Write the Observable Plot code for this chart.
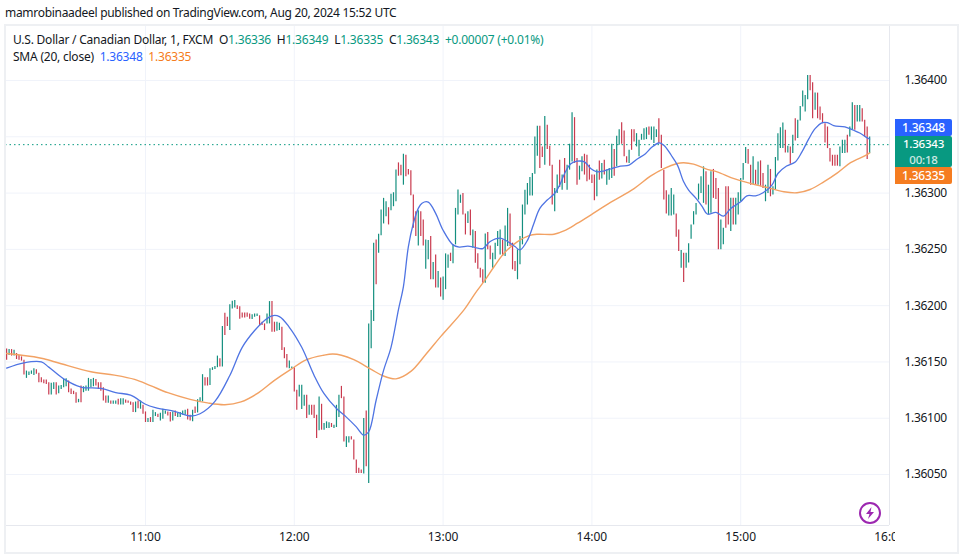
<!DOCTYPE html>
<html><head><meta charset="utf-8">
<style>
html,body{margin:0;padding:0;background:#fff;width:961px;height:555px;overflow:hidden}
body{position:relative;font-family:"Noto Sans",sans-serif;color:#131722}
#pub{position:absolute;left:5px;top:5px;font-size:12px;line-height:16px;white-space:nowrap;letter-spacing:-.3px}
#chart{position:absolute;left:0;top:25px}
#chart svg [aria-label="y-axis tick label"]{letter-spacing:-.3px}
#frame{position:absolute;left:4px;top:24px;width:951px;height:526px;border:2px solid #eef0f3;pointer-events:none}
.leg{position:absolute;left:13px;font-size:12px;line-height:16px;white-space:nowrap;letter-spacing:-.22px}
.leg b{font-weight:400;color:#089981}
.box{position:absolute;left:895px;width:57px;color:#fff;font-size:12px;font-weight:500;text-align:center;line-height:17px;border-radius:0 2px 2px 0;letter-spacing:-.2px}
#mask{position:absolute;left:895px;top:527px;width:60px;height:23px;background:#fff}
#bolt{position:absolute;left:858px;top:501px}
</style>
<script src="https://cdn.jsdelivr.net/npm/d3@7"></script>
<script src="https://cdn.jsdelivr.net/npm/@observablehq/plot@0.6"></script>
</head><body>
<div id="pub">mamrobinaadeel published on TradingView.com, Aug 20, 2024 15:52 UTC</div>
<div id="chart"></div>
<div id="mask"></div>
<div id="frame"></div>
<div class="leg" style="top:32px">U.S. Dollar / Canadian Dollar, 1, FXCM&nbsp; O<b>1.36336</b>&nbsp; H<b>1.36349</b>&nbsp; L<b>1.36335</b>&nbsp; C<b>1.36343</b>&nbsp; <b>+0.00007 (+0.01%)</b></div>
<div class="leg" style="top:49px">SMA (20, close)&nbsp; <span style="color:#2962ff">1.36348</span>&nbsp; <span style="color:#f57c20">1.36335</span></div>
<div class="box" style="top:119px;height:17px;background:#2962ff">1.36348</div>
<div class="box" style="top:136px;height:31px;background:#089981;line-height:15.5px;font-size:11.5px">1.36343<br><span style="opacity:.8">00:18</span></div>
<div class="box" style="top:167px;height:17px;background:#f57c20">1.36335</div>
<svg id="bolt" width="24" height="24" viewBox="0 0 24 24"><circle cx="12" cy="12" r="10" fill="none" stroke="#9c27b0" stroke-width="2"/><path d="M13.5 6 L8 13 H11.5 L10 18 L16 11 H12.5 Z" fill="#9c27b0"/></svg>
<script>
const firstMinute = 604; // 10:04
const highs = [
161.6,161,161,160.5,157.5,155.7,154.5,151.6,141.9,141,
142,144,143,140,136,134,134,131.5,131,131.5,
131.5,128.6,129,134.5,135,133,126,124,122.7,116.8,
128.6,128,128.6,135.4,134.5,135.4,134.5,131.5,131.5,127,
119.8,119.8,115.3,115.3,115.3,116.8,117.4,117.4,116.2,115.3,
114.4,113.8,114.4,115.3,115.3,111.5,105.6,99.7,100.6,107,
105,103.5,104.4,108,106.5,105.6,105,105.6,106.5,104.4,
105,106.5,107,108,102.6,107,110,116.5,118.3,138.7,
136,136,144,144.9,146,155.2,152.8,181.4,193.2,189.7,
200.9,203.9,204.5,200,199,193.5,193.5,193.5,192.6,192,
192.6,192.6,191,185.3,183.8,192.6,203.6,203.6,185.3,185.3,
184.4,180.8,162.6,156.7,150.8,145.5,144.9,124.8,129.2,129.2,
120.4,120.4,111.5,111.5,111.5,102.7,118.9,112.4,95.3,96.8,
95.9,95.3,93.8,111.5,120.4,128.3,118.9,83.5,83.5,83.5,
80.6,62.8,55.5,54,99.7,106.5,183.8,195.6,255.4,258.4,
263.4,285,295.3,292.3,287,299,300.3,320.4,326.8,324.8,
334.5,333.6,321,319.8,298.2,283.5,284.4,283.5,276,258.4,
257.8,261.4,238.3,245,230.4,224.5,225.4,246,245,246.6,
254,286.4,302.7,298.2,299.7,281.4,283.5,285,267.2,265.8,
246,233.3,231.8,263.7,264.9,253,246.6,255.5,265.8,267.2,
258.4,270.8,286.4,281.4,255.5,239.2,249.6,261.4,289.4,302.6,
308.5,313.9,317.4,349.8,359.3,359.3,341,368.1,360.2,341.6,
324.8,304.1,316,329.2,316,330.7,324.8,343.4,371.4,367,
330.7,323.9,332.2,334.5,333.6,324.8,316,316,320.4,328.6,
326.3,329.2,320.4,321.8,343.4,338.6,350.4,356.3,362.5,355.2,
332.2,338,356.3,356.3,352.8,346.9,352.2,357.2,358,358.7,
358.7,358.7,356.3,366,351.3,320.3,302,298.2,304.1,298.2,
281.4,267.2,249,246.6,246.6,254.9,271.7,283.5,290.8,308,
314.4,323.3,318.9,307,318.9,321,313,304.1,276.1,268.7,
305.6,305.6,295.3,295.3,295.3,300.3,313,326.3,340.4,338.6,
324.8,332.2,320.3,327.7,328.6,317.4,307,324.8,321,305.6,
331.6,352.8,358,362.2,355.8,341.6,341,351.3,366,364.6,
377,390.6,386.7,404.4,404.4,398,388.8,388.8,376.4,370.5,
361.6,358.7,339.5,333.6,333.6,333.6,341,346.9,346.9,351.3,
358.7,380.2,377.9,377.9,377.9,375,364.6,358.7,349.9];
const lows = [
151.6,155.7,155.2,155.2,152.2,151.6,150.7,138.3,135.4,138,
139,138,139,131.5,131.5,130.7,130,120.6,120.6,125.6,
120.6,121.8,125.6,127,128,122.7,121,121,113.3,113.8,
113.8,122.7,124,124,127,128,128.6,125.6,124,115.3,
113.3,113.3,112.4,112.4,112.4,111.8,111.8,111.8,113.3,113.3,
111.5,105,105,108.5,108,103.5,96.2,96.2,96.2,96.2,
101.5,100.6,97.6,99,103.5,102,96.7,97.6,101.5,100.6,
100.6,102.6,102.6,98.5,97.6,96.8,104.2,104.7,114.5,114.5,
128.6,128.6,129,142.5,143.4,144.9,145.5,145.5,173.5,181.4,
177.9,197,198,196.5,188,189,189,189.7,188,187.6,
189.7,190.3,181.7,182.3,177.9,183.8,183.8,176.4,176.4,177.3,
177.9,160.2,152.8,144.6,144,144,123.3,107,118.9,107.7,
110.6,99.7,102.7,102.7,99.7,82,88.8,89.4,89.4,90.9,
90.9,91.8,90.9,91.8,100.6,117.4,79,74,78,80.6,
62.8,51,51,51,50.5,57,42,161.7,186,218.6,
246.6,262,272.6,279,271.7,284.4,287.9,292.3,315,315.3,
307,314.4,316,297.6,268.7,261.4,253,261.4,253,232.4,
240.7,223,223,215.6,215.6,207.7,204.7,214.2,233.3,239.2,
237.2,254,280.5,290.9,280.5,262.8,273,262,251,237.7,
232.4,224.5,220,220,249.6,240.7,233.3,240.7,252.5,245,
243.7,243.7,252.5,252.5,231.8,230.4,223,236.3,254,280.5,
289.4,297.3,297.3,316.8,332.7,321.8,331.6,324.8,338.6,323.9,
289.4,283.5,299.7,305,302.6,308.5,302.6,320.4,327.7,326.3,
307,311.5,318.9,316,310,311.5,308.5,293.2,296.8,311.5,
312.4,316,307,311.5,313,315,323.3,342.5,343.4,332.2,
326.8,326.2,338,345.4,341,332.2,346.9,346.9,347.5,351.3,
346.9,344,349.3,344,321.8,293.8,281.4,279.6,279.6,280.5,
260.8,248,233.3,220.6,233.3,237.8,259,271.7,280.5,293.8,
299.7,290.9,289.4,280.5,282,295.3,294.4,249.6,249.6,254,
268.7,271.7,265.8,271.7,271.7,280.5,292.3,311.5,326.3,325.7,
307,307.7,307,307,305.6,304.1,292.3,299.7,296.7,298.2,
302.6,328.6,339.5,339.5,335.7,335.7,325.7,335.1,346.3,348.4,
364,376.4,372,382.9,391,366,373.5,366,364.6,361.6,
344.5,339.5,327.7,323.9,323.9,323.9,323.3,335.1,335.1,335.7,
349.9,355.8,355.8,363.1,363.1,363.1,349.9,329.8,335.1];
const dirs = ("rgrgrrrrgg ggrrrrrrgg rggggrrrrg rgggggrrrr rgrggrggrr rrgrgrrgrg "+
"grgggrrgrg gggrrgrggg rrggggrgrr gggrrrrrrg ggrrrggrrg grrrggrrgg "+
"grgrrrgrgg grgggrrggr rrrrgrgggr ggggrgggrr grrrrrgrrg grgrgrgggr "+
"ggggrrgrgr rrrgrrgggg rggrrrgggg gggggrrgrr rggrgrgggr rggrrrrrgr "+
"grgggrggrr rgrrgggggr gggrrrrggg rrgrgggggg ggrggrrrgg rrgrgggggr "+
"rgrgrrggrg ggggrgrgrg ggggrrgrrr rrrrrrgggr ggrggrrrg").replace(/ /g,"");

const fastAt = [0,7,14,17,23,30,38,44,50,56,60,68,74,78,84,90,95,100,104,107,110,114,119,124,128,133,137,141,144,146,149,152,155,158,160,162,164,166,167.5,170,173,176,180,182.5,186,189,192,195,199,202,205,207,210,212.6,215,218,221,223,225,227.5,230,233,235.5,238,241,244,247.5,251,254,257.6,260,263,265,268,270.5,273,275,278,280.5,282.5,286,289,292,296,298.5,302,305,308.6,311,314.5,318,320.7,323.5,326,329,331,333.5,338,341.5,344,347,348];
const fastVal = [144.5,149.2,150,145.4,135,127.7,126.5,122.7,120.6,112.4,109.4,105.9,102,104,115,138,163,177.9,186.8,191,190.3,180.8,163,138,121.8,108.6,101,92.3,85,88,116,142.5,163,196.5,217,252.5,273,286.4,291,292,282,267,254,252,252.8,251.6,250.7,257,260,257,252.5,249.5,258,273,286.4,293.8,299.7,307,317.4,326,328.3,327.7,321.8,318.9,319.8,321.8,323.9,324.8,329.8,335,340.4,344.5,342.5,333.6,324.8,310,302.6,295.3,288,281.4,282.9,279.6,286.4,292.3,297.6,297.6,300.3,307,317.4,324,327.7,336.6,348.4,357.2,362.5,362.5,360,358.7,355.8,353.4,349,348];
const slowAt = [0,11,15,22,34,43.5,51.6,58,65,74,81,88,94.5,101,108,114.6,121,128,131.5,135,140,147,152,157,163,169,175,184.5,189,192.5,196.6,200.6,206,210.7,214,220.7,224.7,230,235.5,243.5,253,259.6,265,270.4,273,277,282.5,286.5,293,300,306.7,313.4,318.7,324,329.5,335,340.3,346,348];
const slowVal = [157.5,154.6,152.8,148.4,141.3,138.3,134.5,129,122.7,116.8,113.6,112,114.5,121.8,133.6,143.4,152,156,157,156,152,143.4,137.5,135,141.6,156.6,172.5,196.5,211.2,221.5,234.8,246.6,256.9,262.2,263.4,263.4,266.4,273,280.5,291.7,304,315,321.8,326.3,327,325.7,321,318.9,313,308.5,305,301.2,300.3,303.2,310,318,327,333,335.7];
const hourTicks = [660,720,780,840,900,960];
const priceTicks = [1.3605,1.361,1.3615,1.362,1.3625,1.363,1.364];
const gridPrices = [1.3605,1.361,1.3615,1.362,1.3625,1.363,1.3635,1.364];
const lastPrice = 1.36343;

const price = v => 1.36 + v/1e5;
const candles = highs.map((h,i)=>({t:firstMinute+i, high:price(h), low:price(lows[i]), up:dirs[i]==="g"}));
const fast = fastAt.map((a,i)=>({t:firstMinute+a, v:price(fastVal[i])}));
const slow = slowAt.map((a,i)=>({t:firstMinute+a, v:price(slowVal[i])}));
const hhmm = m => String(Math.floor(m/60)).padStart(2,"0")+":"+String(m%60).padStart(2,"0");

const chart = Plot.plot({
  width:961, height:528, marginLeft:5, marginRight:72, marginTop:0, marginBottom:28,
  style:{fontFamily:'"Noto Sans",sans-serif',fontSize:"12px",color:"#131722",background:"transparent"},
  x:{type:"linear",domain:[603.55,960]},
  y:{domain:[1.3600473,1.3644885]},
  marks:[
    Plot.gridX(hourTicks,{stroke:"#f0f3fa",strokeOpacity:1}),
    Plot.gridY(gridPrices,{stroke:"#f0f3fa",strokeOpacity:1}),
    Plot.ruleY([lastPrice],{stroke:"#089981",strokeDasharray:"1.5 3",strokeWidth:1}),
    Plot.ruleX(candles,{x:"t",y1:"low",y2:"high",stroke:d=>d.up?"#148f7f":"#c93a4e",strokeWidth:1.2}),
    Plot.line(slow,{x:"t",y:"v",stroke:"#f2a264",strokeWidth:1.4,curve:"catmull-rom"}),
    Plot.line(fast,{x:"t",y:"v",stroke:"#4f74e3",strokeWidth:1.3,curve:"catmull-rom"}),
    Plot.ruleX([960],{stroke:"#e6e8ee"}),
    Plot.ruleY([1.3600473],{stroke:"#e6e8ee"}),
    Plot.axisX({ticks:hourTicks,tickFormat:hhmm,tickSize:0,tickPadding:7,label:null,color:"#131722"}),
    Plot.axisY({anchor:"right",ticks:priceTicks,tickFormat:d3.format(".5f"),tickSize:0,tickPadding:15,label:null,color:"#131722"})
  ]
});
document.getElementById("chart").appendChild(chart);
</script>
</body></html>
